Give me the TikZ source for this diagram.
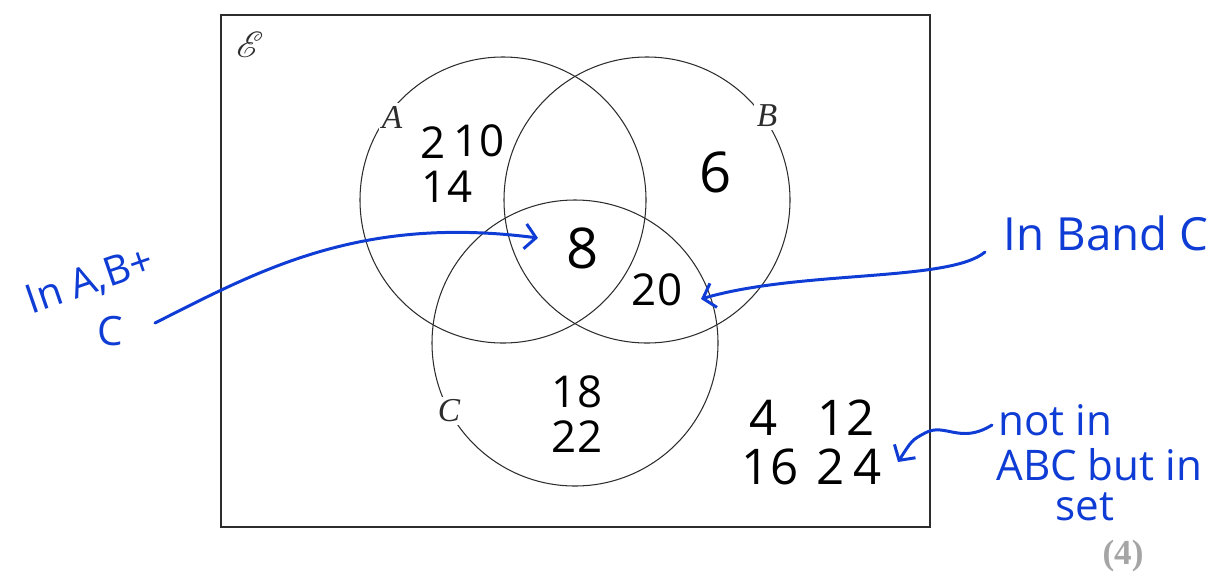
\documentclass[tikz,border=0pt]{standalone}
\usepackage{fontspec}
\usepackage{mathrsfs}
\usetikzlibrary{arrows.meta,positioning}
\newfontfamily\handfont{Open Sans}
\newfontfamily\printfont{Liberation Serif}
\definecolor{penblue}{RGB}{14,60,212}
\definecolor{setline}{RGB}{45,45,45}
\definecolor{markgray}{RGB}{165,165,165}
\tikzset{
  setcircle/.style={draw=setline,line width=0.6pt},
  setlabel/.style={fill=white,inner sep=1.5pt,font=\printfont\itshape\fontsize{19}{21}\selectfont,text=setline},
  entry/.style={inner sep=0pt,font=\handfont\fontsize{25}{28}\selectfont},
  note/.style={inner sep=0pt,text=penblue,font=\handfont\fontsize{25}{28}\selectfont},
  pointer/.style={draw=penblue,line width=1.7pt,line cap=round,-{Straight Barb[length=2.2mm,width=5mm,line width=1.7pt]}}
}
\begin{document}
\begin{tikzpicture}[x=0.02cm,y=-0.02cm]
\useasboundingbox (0,0) rectangle (1217,572);
% universal set
\draw[setline,line width=0.9pt] (221,15) rectangle (930,527);
\node[inner sep=0pt,text=setline,font=\fontsize{22}{24}\selectfont] (univ) at (250,45) {$\mathscr{E}$};
% the three sets
\draw[setcircle] (503,200) circle (143);
\draw[setcircle] (647,200) circle (143);
\draw[setcircle] (575,343) circle (143);
\node[setlabel] (labA) at (392,117) {A};
\node[setlabel] (labB) at (767,116) {B};
\node[setlabel] (labC) at (449,411) {C};
% entries
\node[entry] (n2) at (433,143) {2};
\node[entry] (n10) at (479,141) {10};
\node[entry] (n14) at (447,187) {14};
\node[entry,font=\handfont\fontsize{32}{34}\selectfont] (n6) at (716,172) {6};
\node[entry,font=\handfont\fontsize{32}{34}\selectfont] (n8) at (583,248) {8};
\node[entry] (n20) at (657,290) {20};
\node[entry] (n18) at (577,392) {18};
\node[entry] (n22) at (577,437) {22};
\node[entry,font=\handfont\fontsize{28}{30}\selectfont] (n4) at (764,418) {4};
\node[entry,font=\handfont\fontsize{28}{30}\selectfont] (n12) at (846,418) {12};
\node[entry,font=\handfont\fontsize{28}{30}\selectfont] (n16) at (770,467) {16};
\node[entry,font=\handfont\fontsize{28}{30}\selectfont] (n24) at (849,467) {2\,4};
% notes
\node[note,rotate=19,font=\handfont\fontsize{23}{26}\selectfont] (nABC) at (90,282) {In A,B+};
\node[note,font=\handfont\fontsize{23}{26}\selectfont] (nABCc) at (110,331) {C};
\node[note,font=\handfont\fontsize{26}{30}\selectfont] (nBC) at (1106,233) {In Band C};
\node[note,font=\handfont\fontsize{24}{26}\selectfont,anchor=west] (nout1) at (998,420) {not in};
\node[note,font=\handfont\fontsize{24}{26}\selectfont,anchor=west] (nout2) at (996,465) {ABC but in};
\node[note,font=\handfont\fontsize{24}{26}\selectfont,anchor=west] (nout3) at (1055,507) {set};
\node[inner sep=0pt,text=markgray,font=\printfont\bfseries\fontsize{20}{22}\selectfont] (marks) at (1123,556) {(4)};
% pointers
\coordinate (tailABC) at (155,323);
\coordinate (tipABC) at (538,238);
\coordinate (tailBC) at (985,252);
\coordinate (tipBC) at (701,299);
\coordinate (tailout) at (992,425);
\coordinate (tipout) at (898,462);
\draw[pointer] (tailABC) .. controls (260,270) and (360,215) .. (tipABC);
\draw[pointer] (tailBC) .. controls (950,282) and (800,270) .. (tipBC);
\draw[pointer] (tailout) .. controls (960,445) and (945,422) .. (925,433) .. controls (912,440) .. (tipout);
\end{tikzpicture}
\end{document}
